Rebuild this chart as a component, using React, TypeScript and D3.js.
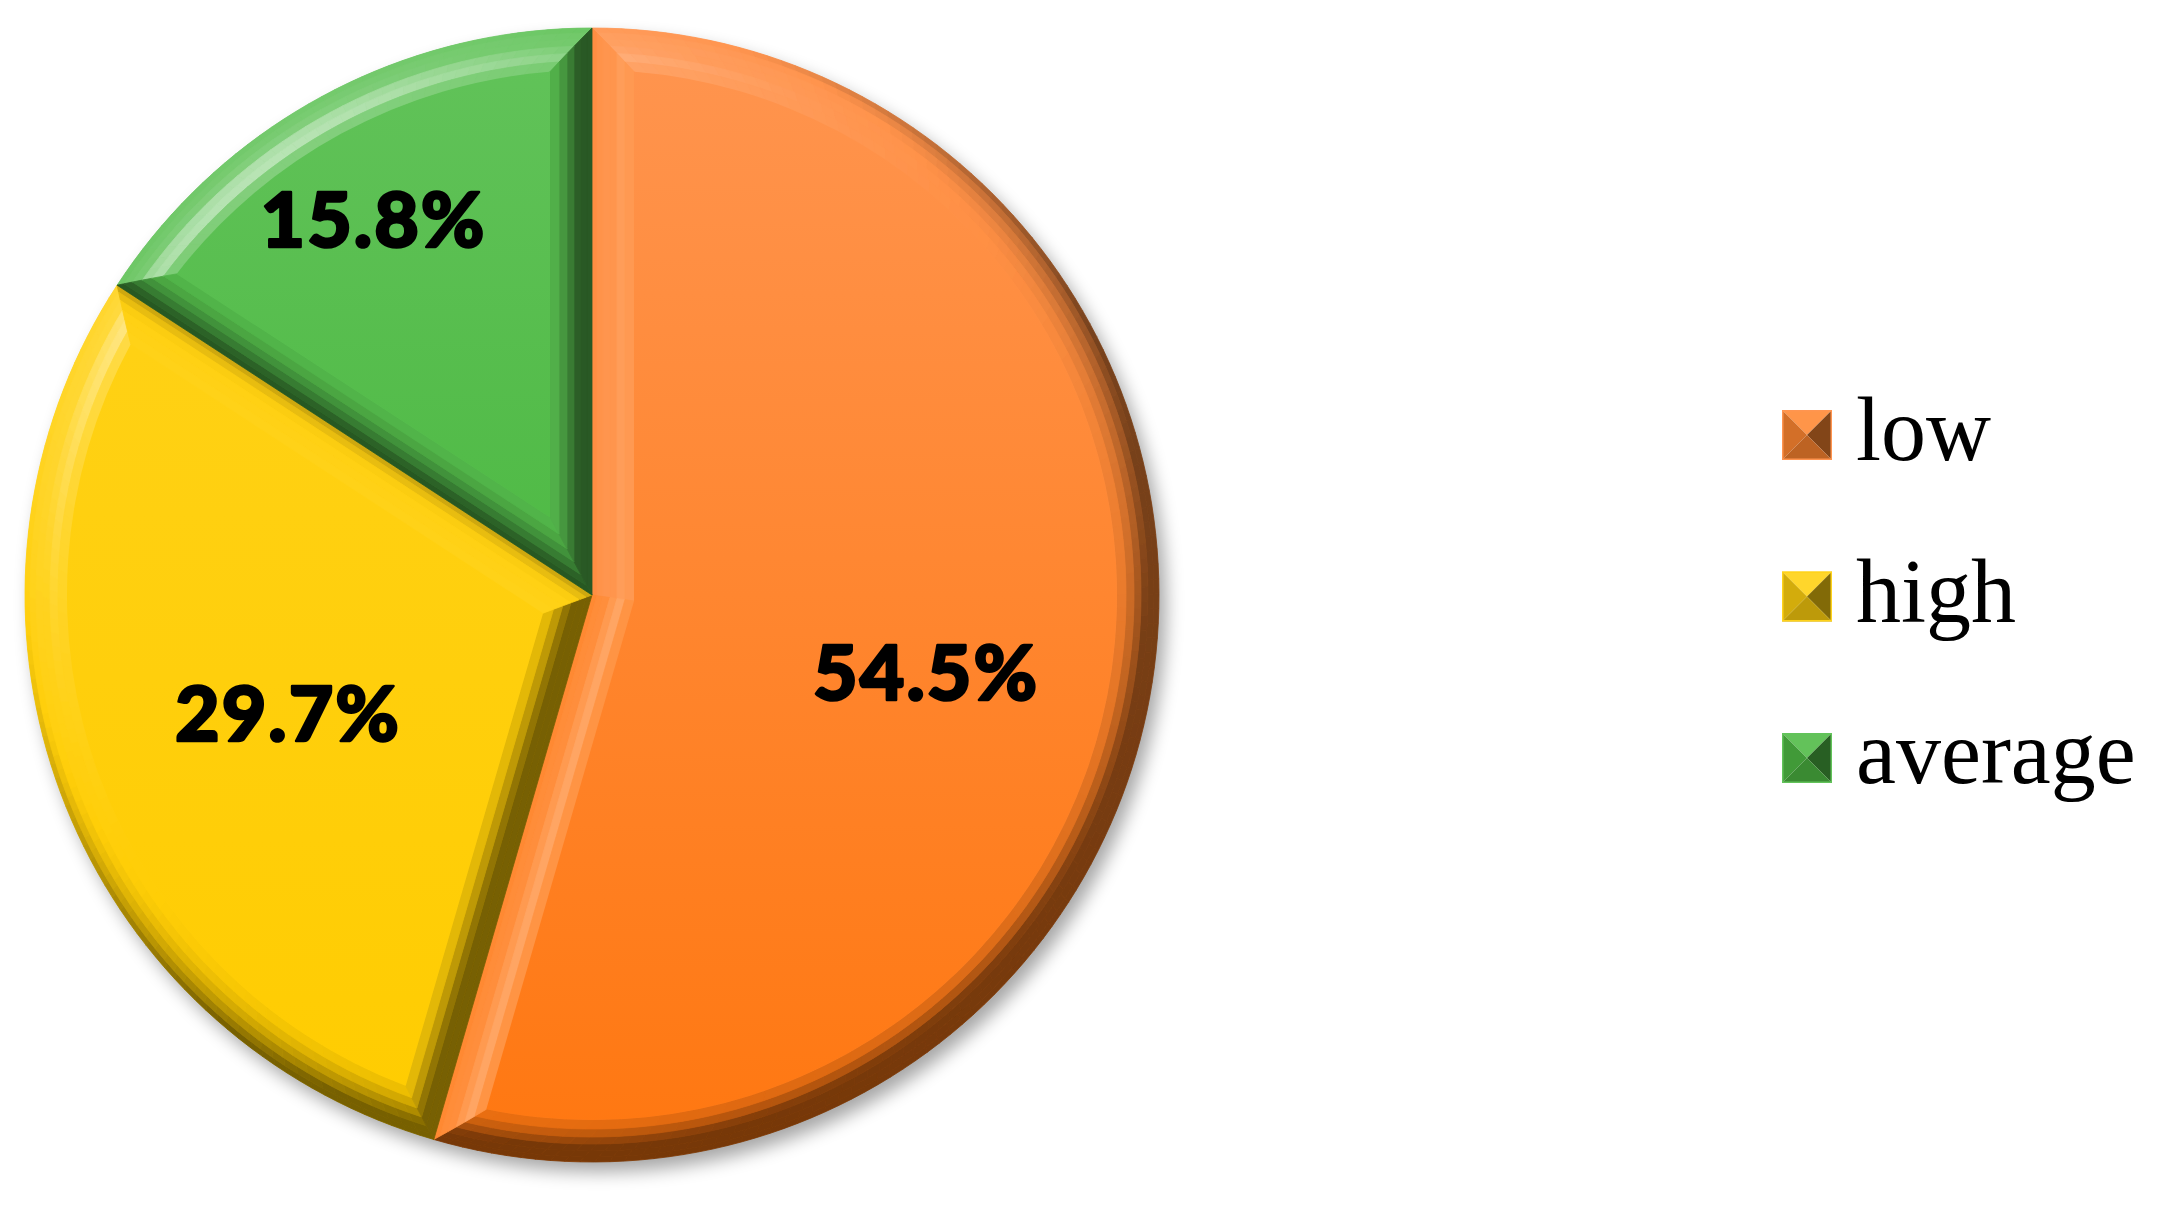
import React from "react";
import * as d3 from "d3";

// data
const categories = ["low", "high", "average"];
const shares = [54.5, 29.7, 15.8];
const labels = ["54.5%", "29.7%", "15.8%"];
const topColors = ["#ff9550", "#ffd31c", "#62c35a"];
const bottomColors = ["#ff7710", "#ffcc00", "#3ab02e"];
// excel "best fit" label spots: fraction of radius, angle shift (deg)
const labelRadius = [0.605, 0.576, 0.765];
const labelShift = [5, -1.1, -1.8];

const W = 2168;
const H = 1226;
const cx = 592;
const cy = 595;
const R = 567;

// bevel profile: inset levels and facet tilt (deg)
const bevel = [0, 5, 11, 18, 25, 33, 42];
const tilts = [76, 62, 48, 35, 22, 10];

const rawL = [-0.5, -0.62, 0.6];
const lLen = Math.hypot(rawL[0], rawL[1], rawL[2]);
const L = rawL.map((v) => v / lLen);
const hv = [L[0], L[1], L[2] + 1];
const hLen = Math.hypot(hv[0], hv[1], hv[2]);
const HH = hv.map((v) => v / hLen);
const specFlat = Math.pow(HH[2], 22);

function shade(base: string, hx: number, hy: number, tiltDeg: number) {
  const a = (tiltDeg * Math.PI) / 180;
  const nx = hx * Math.sin(a), ny = hy * Math.sin(a), nz = Math.cos(a);
  const dot = nx * L[0] + ny * L[1] + nz * L[2];
  const d = Math.max(0, dot) / L[2];
  const dark = d3.rgb(base).darker(2.6).formatHex();
  const c = d < 1
    ? d3.interpolateRgb(base, dark)((1 - d) * 0.88)
    : d3.interpolateRgb(base, "#ffffff")(Math.min(0.5, (d - 1) * 0.25));
  const nh = Math.max(0, nx * HH[0] + ny * HH[1] + nz * HH[2]);
  const spec = Math.max(0, Math.pow(nh, 22) - specFlat);
  return d3.interpolateRgb(c, "#ffffff")(Math.min(0.6, spec * 0.6));
}

const pt = (a: number, r: number): [number, number] => [cx + r * Math.sin(a), cy - r * Math.cos(a)];
const colorAt = (i: number, y: number) =>
  d3.interpolateRgb(topColors[i], bottomColors[i])(Math.max(0, Math.min(1, (y - (cy - R)) / (2 * R))));

const poly = (pts: [number, number][]) => "M" + pts.map((p) => p[0].toFixed(2) + "," + p[1].toFixed(2)).join("L") + "Z";

export default function App() {
  const pie = d3.pie<number>().sort(null).value((d) => d);
  const arcs = pie(shares);
  const arcGen = d3.arc<d3.PieArcDatum<number>>().innerRadius(0).outerRadius(R);

  const legendY = d3.scalePoint<string>().domain(categories).range([435, 758]);

  const slices = arcs.map((arc, i) => {
    const a0 = arc.startAngle, a1 = arc.endAngle;
    const th = a1 - a0, am = (a0 + a1) / 2;
    const P = (t: number) => pt(am, t / Math.sin(th / 2));
    const A1 = (t: number) => a0 + Math.atan2(t, Math.sqrt((R - t) ** 2 - t * t));
    const A2 = (t: number) => a1 - Math.atan2(t, Math.sqrt((R - t) ** 2 - t * t));
    const facets: { d: string; fill: string }[] = [];
    for (let k = 0; k < tilts.length; k++) {
      const t0 = bevel[k], t1 = bevel[k + 1], tilt = tilts[k];
      // outer arc facets
      const n = Math.ceil((A2(t0) - A1(t0)) / ((1.5 * Math.PI) / 180));
      for (let j = 0; j < n; j++) {
        const o0 = A1(t0) + ((A2(t0) - A1(t0)) * j) / n;
        const o1 = A1(t0) + ((A2(t0) - A1(t0)) * (j + 1)) / n;
        const i0 = A1(t1) + ((A2(t1) - A1(t1)) * j) / n;
        const i1 = A1(t1) + ((A2(t1) - A1(t1)) * (j + 1)) / n;
        const m = (o0 + o1) / 2;
        const y = cy - (R - t0) * Math.cos(m);
        facets.push({
          d: poly([pt(o0, R - t0), pt(o1, R - t0), pt(i1, R - t1), pt(i0, R - t1)]),
          fill: shade(colorAt(i, y), Math.sin(m), -Math.cos(m), tilt),
        });
      }
      // radial edge facets
      const e1 = [P(t0), pt(A1(t0), R - t0), pt(A1(t1), R - t1), P(t1)] as [number, number][];
      const e2 = [P(t0), pt(A2(t0), R - t0), pt(A2(t1), R - t1), P(t1)] as [number, number][];
      const ym1 = d3.mean(e1, (p) => p[1])!;
      const ym2 = d3.mean(e2, (p) => p[1])!;
      facets.push({ d: poly(e1), fill: shade(colorAt(i, ym1), -Math.cos(a0), -Math.sin(a0), tilt) });
      facets.push({ d: poly(e2), fill: shade(colorAt(i, ym2), Math.cos(a1), Math.sin(a1), tilt) });
    }
    const T = bevel[bevel.length - 1];
    const p = P(T), s = pt(A1(T), R - T), e = pt(A2(T), R - T);
    const large = A2(T) - A1(T) > Math.PI ? 1 : 0;
    const face = `M${p[0]},${p[1]}L${s[0]},${s[1]}A${R - T},${R - T} 0 ${large} 1 ${e[0]},${e[1]}Z`;
    const la = am + (labelShift[i] * Math.PI) / 180;
    const lp = pt(la, R * labelRadius[i]);
    return { arc, facets, face, lp };
  });

  const sq = 50;
  return (
    <svg width={W} height={H} style={{ position: "absolute", left: 0, top: 0, background: "#fff" }}>
      <defs>
        <filter id="shadow" x="-20%" y="-20%" width="140%" height="140%">
          <feGaussianBlur stdDeviation="9" />
        </filter>
        {categories.map((c, i) => (
          <linearGradient key={c} id={"face" + i} gradientUnits="userSpaceOnUse" x1="0" y1={cy - R} x2="0" y2={cy + R}>
            <stop offset="0" stopColor={topColors[i]} />
            <stop offset="1" stopColor={bottomColors[i]} />
          </linearGradient>
        ))}
      </defs>
      <circle cx={cx + 7} cy={cy + 10} r={R} fill="#000" opacity={0.35} filter="url(#shadow)" />
      <g transform={`translate(${cx},${cy})`}>
        {slices.map((s, i) => (
          <path key={i} d={arcGen(s.arc)!} fill={`url(#face${i})`} />
        ))}
      </g>
      {slices.map((s, i) => (
        <g key={i}>
          {s.facets.map((f, j) => (
            <path key={j} d={f.d} fill={f.fill} stroke={f.fill} strokeWidth={0.8} strokeLinejoin="round" />
          ))}
          <path d={s.face} fill={`url(#face${i})`} />
        </g>
      ))}
      {slices.map((s, i) => (
        <text key={i} x={s.lp[0]} y={s.lp[1] + 27} textAnchor="middle" letterSpacing={2}
          stroke="#000" strokeWidth={2.5} strokeLinejoin="round"
          style={{ fontFamily: "Lato, 'DejaVu Sans', sans-serif", fontWeight: 900, fontSize: 77, fill: "#000" }}>
          {labels[i]}
        </text>
      ))}
      {categories.map((c, i) => {
        const y = legendY(c)!;
        const x0 = 1782, y0 = y - sq / 2;
        const base = d3.interpolateRgb(topColors[i], bottomColors[i])(0.5);
        const ctr: [number, number] = [x0 + sq / 2, y];
        const tl: [number, number] = [x0, y0], tr: [number, number] = [x0 + sq, y0];
        const bl: [number, number] = [x0, y0 + sq], br: [number, number] = [x0 + sq, y0 + sq];
        const dk = (f: number) => d3.interpolateRgb(base, d3.rgb(base).darker(2.4).formatHex())(f);
        return (
          <g key={c}>
            <path d={poly([tl, tr, ctr])} fill={d3.interpolateRgb(base, "#fff")(0.12)} />
            <path d={poly([tl, ctr, bl])} fill={dk(0.3)} />
            <path d={poly([tr, br, ctr])} fill={dk(0.85)} />
            <path d={poly([bl, ctr, br])} fill={dk(0.45)} />
            <rect x={x0 + 0.75} y={y0 + 0.75} width={sq - 1.5} height={sq - 1.5} fill="none" stroke={topColors[i]} strokeWidth={1.5} />
            <text x={1856} y={y + 25} style={{ fontFamily: "'Liberation Serif', serif", fontSize: 90, fill: "#000" }}>
              {c}
            </text>
          </g>
        );
      })}
    </svg>
  );
}
